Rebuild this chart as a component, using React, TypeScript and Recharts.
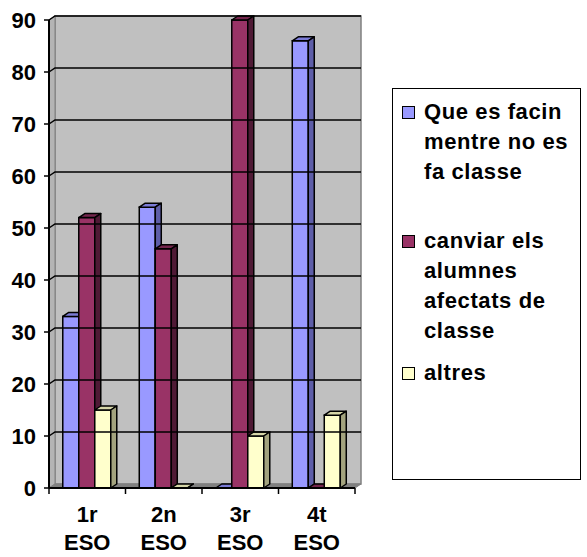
import React from 'react';
import { BarChart, Bar, XAxis, YAxis, Legend, ReferenceArea, ReferenceLine } from 'recharts';

const categories = ['1r ESO', '2n ESO', '3r ESO', '4t ESO'];
const queEsFacin = [33, 54, 0, 86];
const canviarAlumnes = [52, 46, 90, 0];
const altres = [15, 0, 10, 14];
const yTicks = [0, 10, 20, 30, 40, 50, 60, 70, 80, 90];

const seriesNames = [
  'Que es facin mentre no es fa classe',
  'canviar els alumnes afectats de classe',
  'altres',
];
const legendLines = [
  ['Que es facin', 'mentre no es', 'fa classe'],
  ['canviar els', 'alumnes', 'afectats de', 'classe'],
  ['altres'],
];

const data = categories.map((c, i) => ({
  cat: c,
  s1: queEsFacin[i],
  s2: canviarAlumnes[i],
  s3: altres[i],
}));

const DX = 6;
const DY = 4;
const FONT = '"Liberation Sans", Arial, sans-serif';

const palette = [
  { front: '#9999ff', top: '#7b7bd6', side: '#5e5ea8' },
  { front: '#993366', top: '#74264d', side: '#4f1a35' },
  { front: '#ffffcc', top: '#d6d6a8', side: '#a3a37e' },
];

const make3D = (c: { front: string; top: string; side: string }) => (props: any) => {
  const { x, y, width, height } = props;
  if (x == null || y == null) return null;
  const w = width || 0;
  const h = height || 0;
  const sw = 1.5;
  return (
    <g>
      <rect x={x} y={y} width={w} height={h} fill={c.front} stroke="#000" strokeWidth={sw} />
      <polygon
        points={`${x},${y} ${x + DX},${y - DY} ${x + w + DX},${y - DY} ${x + w},${y}`}
        fill={c.top}
        stroke="#000"
        strokeWidth={sw}
        strokeLinejoin="round"
      />
      <polygon
        points={`${x + w},${y} ${x + w + DX},${y - DY} ${x + w + DX},${y + h - DY} ${x + w},${y + h}`}
        fill={c.side}
        stroke="#000"
        strokeWidth={sw}
        strokeLinejoin="round"
      />
    </g>
  );
};

const Walls = (props: any) => {
  const { x, y, width, height } = props;
  if (x == null) return null;
  const l = x, t = y, r = x + width, b = y + height;
  return (
    <g>
      <rect x={l + DX} y={t - DY} width={width} height={height} fill="#c0c0c0" stroke="#808080" strokeWidth={1.5} />
      <polygon points={`${l},${b} ${l},${t} ${l + DX},${t - DY} ${l + DX},${b - DY}`} fill="#b4b4b4" stroke="#808080" strokeWidth={1} />
      <polygon points={`${l},${b} ${l + DX},${b - DY} ${r + DX},${b - DY} ${r},${b}`} fill="#808080" stroke="#808080" strokeWidth={1} />
    </g>
  );
};

const GridLine = (props: any) => {
  const { x1, y1, x2, y2 } = props;
  if (x1 == null) return null;
  return (
    <polyline
      points={`${x1},${y1} ${x1 + DX},${y1 - DY} ${x2 + DX},${y2 - DY}`}
      fill="none"
      stroke="#000"
      strokeWidth={1.5}
    />
  );
};

const XTick = (props: any) => {
  const { x, y, payload, index } = props;
  const off = payload && payload.offset ? payload.offset : 38.25;
  const parts = String(payload.value).split(' ');
  return (
    <g>
      <line x1={x - off} y1={y} x2={x - off} y2={y + 6} stroke="#000" strokeWidth={1.5} />
      {index === categories.length - 1 && (
        <line x1={x + off} y1={y} x2={x + off} y2={y + 6} stroke="#000" strokeWidth={1.5} />
      )}
      <text x={x} y={y + 34} textAnchor="middle" fontFamily={FONT} fontWeight="bold" fontSize={22} fill="#000">
        {parts[0]}
      </text>
      <text x={x} y={y + 62} textAnchor="middle" fontFamily={FONT} fontWeight="bold" fontSize={22} fill="#000">
        {parts[1]}
      </text>
    </g>
  );
};

const LegendBox = () => (
  <div
    style={{
      width: '100%',
      height: '100%',
      boxSizing: 'border-box',
      border: '1.5px solid #000',
      background: '#fff',
      fontFamily: FONT,
      fontWeight: 'bold',
      fontSize: 22,
      letterSpacing: '0.6px',
      lineHeight: '30px',
      color: '#000',
      position: 'relative',
    }}
  >
    {legendLines.map((lines, i) => (
      <div
        key={seriesNames[i]}
        style={{ position: 'absolute', left: 0, top: [8, 137, 269][i], display: 'flex' }}
      >
        <div
          style={{
            width: 13,
            height: 13,
            boxSizing: 'border-box',
            border: '1.5px solid #000',
            background: palette[i].front,
            marginLeft: 9,
            marginTop: 9,
            flex: 'none',
          }}
        />
        <div style={{ marginLeft: 9, whiteSpace: 'nowrap' }}>
          {lines.map((ln) => (
            <div key={ln}>{ln}</div>
          ))}
        </div>
      </div>
    ))}
  </div>
);

export default function App() {
  return (
    <div style={{ position: 'absolute', left: 0, top: 0, width: 587, height: 557, background: '#fff' }}>
      <BarChart
        width={587}
        height={557}
        data={data}
        margin={{ top: 20, right: 232, bottom: 0, left: 0 }}
        barCategoryGap="18%"
        barGap={0}
      >
        <ReferenceArea y1={0} y2={90} shape={<Walls />} ifOverflow="visible" />
        {yTicks.slice(1).map((v) => (
          <ReferenceLine key={v} y={v} shape={<GridLine />} ifOverflow="visible" />
        ))}
        <XAxis
          dataKey="cat"
          height={69}
          tickLine={false}
          tickSize={0}
          tickMargin={0}
          axisLine={{ stroke: '#000', strokeWidth: 2 }}
          tick={<XTick />}
          interval={0}
        />
        <YAxis
          width={49}
          domain={[0, 90]}
          ticks={yTicks}
          interval={0}
          tickSize={5}
          tickMargin={8}
          axisLine={{ stroke: '#000', strokeWidth: 2 }}
          tickLine={{ stroke: '#000', strokeWidth: 1.5 }}
          tick={{ fontFamily: FONT, fontWeight: 'bold', fontSize: 22, fill: '#000' }}
        />
        <Bar dataKey="s1" name={seriesNames[0]} fill={palette[0].front} shape={make3D(palette[0])} isAnimationActive={false} />
        <Bar dataKey="s2" name={seriesNames[1]} fill={palette[1].front} shape={make3D(palette[1])} isAnimationActive={false} />
        <Bar dataKey="s3" name={seriesNames[2]} fill={palette[2].front} shape={make3D(palette[2])} isAnimationActive={false} />
        <Legend
          layout="horizontal"
          align="center"
          verticalAlign="middle"
          content={() => <LegendBox />}
          wrapperStyle={{ position: 'absolute', left: 392, top: 88, width: 189, height: 392, margin: 0, padding: 0 }}
        />
      </BarChart>
    </div>
  );
}
